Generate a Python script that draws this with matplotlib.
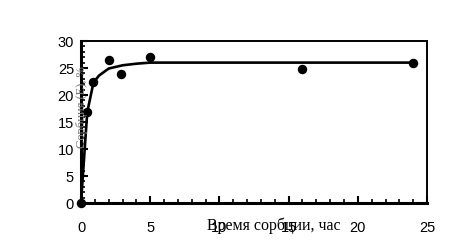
import matplotlib
matplotlib.use("Agg")
import matplotlib.pyplot as plt
from matplotlib.ticker import MultipleLocator

# measured points
time_h = [0, 0.45, 0.9, 2, 2.9, 5, 16, 24]
sorption = [0, 16.8, 22.5, 26.4, 23.9, 27.1, 24.9, 26.0]

# fitted curve
fit_t = [0, 0.45, 0.9, 1.3, 2.0, 3.0, 4.0, 5.0, 24]
fit_y = [0, 16.8, 22.3, 23.6, 24.9, 25.5, 25.8, 26.0, 26.0]

fig = plt.figure(figsize=(4.5, 2.49), dpi=100)
ax = fig.add_axes([0.18, 0.1847, 0.769, 0.6506])

ax.plot(fit_t, fit_y, color="black", linewidth=1.9, zorder=2)
ax.plot(time_h, sorption, "o", color="black", markersize=5.8, zorder=3, clip_on=False)

ax.set_xlim(0, 25)
ax.set_ylim(0, 30)
ax.xaxis.set_major_locator(MultipleLocator(5))
ax.xaxis.set_minor_locator(MultipleLocator(1))
ax.yaxis.set_major_locator(MultipleLocator(5))
ax.yaxis.set_minor_locator(MultipleLocator(1))
ax.tick_params(which="major", direction="in", length=5, width=1.5,
               labelsize=10.5, colors="black")
ax.tick_params(axis="x", which="major", pad=13)
ax.tick_params(axis="y", which="major", pad=5)
ax.tick_params(which="minor", direction="in", length=3, width=1.2)
for lbl in ax.get_xticklabels() + ax.get_yticklabels():
    lbl.set_fontfamily("Liberation Sans")

for side in ["left", "bottom"]:
    ax.spines[side].set_linewidth(2.2)
for side in ["top", "right"]:
    ax.spines[side].set_linewidth(1.4)

fig.text(0.608, 0.092, "Время сорбции, час", ha="center", va="center",
         fontsize=11.5, family="Liberation Serif")
fig.text(0.182, 0.57, "Сорбция (Е), %", ha="center", va="center",
         rotation=90, fontsize=9, color="#777777", family="Liberation Serif")

fig.savefig("out.png", dpi=100)
